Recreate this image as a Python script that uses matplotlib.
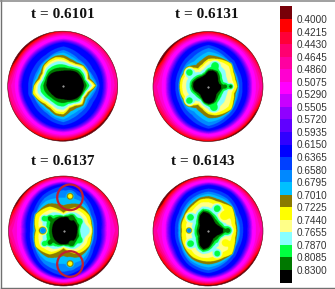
import numpy as np
import matplotlib
matplotlib.use("Agg")
import matplotlib.pyplot as plt
from matplotlib.colors import ListedColormap, BoundaryNorm
from matplotlib.patches import Circle, Rectangle

W, H = 335, 289

tick_labels = ["0.4000", "0.4215", "0.4430", "0.4645", "0.4860", "0.5075", "0.5290",
               "0.5505", "0.5720", "0.5935", "0.6150", "0.6365", "0.6580", "0.6795",
               "0.7010", "0.7225", "0.7440", "0.7655", "0.7870", "0.8085", "0.8300"]
level_values = [float(s) for s in tick_labels]
band_colors = ["#780008", "#ff0000", "#ff0038", "#ff0070", "#ff00a0", "#ff00d0", "#ff00ff",
               "#c800ff", "#9000ff", "#6000ff", "#3000ff", "#0000ff", "#0040ff", "#0088ff",
               "#00c0ff", "#8a7a00", "#ffff00", "#ffff88", "#88ffff", "#00ff40", "#007800",
               "#000000"]

titles = ["t = 0.6101", "t = 0.6131", "t = 0.6137", "t = 0.6143"]

# radii as fraction of the disk, angle 0 = east, counter clockwise
# black core and edge of the yellow zone, every 15 deg
black_1 = [.37, .36, .35, .34, .31, .28, .27, .27, .29, .31, .32, .31,
           .31, .29, .27, .26, .26, .25, .25, .27, .30, .33, .35, .36]
yellow_1 = [.58, .46, .50, .50, .45, .45, .50, .53, .52, .50, .44, .45,
            .53, .57, .52, .47, .47, .52, .52, .42, .42, .48, .43, .46]
black_2 = [.25, .20, .20, .24, .29, .30, .28, .22, .21, .22, .25, .28,
           .28, .26, .22, .21, .24, .29, .31, .31, .25, .20, .20, .22]
yellow_2 = [.52, .50, .52, .58, .55, .52, .50, .42, .38, .48, .50, .52,
            .52, .52, .50, .48, .38, .42, .50, .54, .56, .58, .52, .48]
black_3 = [.25, .26, .26, .26, .25, .25, .24, .24, .23, .23, .22, .21,
           .21, .21, .22, .23, .24, .25, .25, .25, .26, .26, .26, .25]
yellow_3 = [.50, .52, .54, .52, .49, .40, .32, .40, .50, .54, .58, .54,
            .50, .54, .58, .54, .50, .40, .32, .40, .49, .52, .54, .52]
black_4 = [.30, .23, .19, .18, .20, .25, .31, .35, .31, .23, .18, .17,
           .18, .18, .18, .23, .31, .35, .30, .22, .17, .17, .18, .23]
yellow_4 = [.50, .50, .54, .60, .56, .55, .58, .58, .54, .52, .50, .50,
            .48, .50, .52, .54, .56, .56, .56, .56, .56, .60, .54, .50]

# outer edge of cyan and blue, rim value, every 30 deg
cyan_1 = [.62, .54, .56, .66, .58, .56, .57, .58, .60, .68, .60, .55]
blue_1 = [.71, .72, .74, .78, .74, .74, .75, .74, .76, .78, .75, .72]
rim_1 = [.46, .43, .42, .40, .36, .36, .47, .44, .41, .39, .36, .36]
cyan_2 = [.56, .56, .62, .72, .62, .56, .54, .56, .62, .74, .64, .58]
blue_2 = [.70, .72, .76, .80, .76, .70, .68, .70, .76, .80, .76, .72]
rim_2 = [.46, .41, .38, .40, .38, .36, .47, .42, .40, .39, .36, .36]
cyan_3 = [.56, .58, .70, .78, .70, .58, .56, .60, .72, .80, .72, .58]
blue_3 = [.68, .74, .80, .84, .80, .72, .67, .72, .80, .85, .80, .72]
rim_3 = [.47, .41, .39, .40, .37, .36, .47, .40, .38, .36, .36, .38]
cyan_4 = [.58, .58, .68, .72, .66, .58, .56, .58, .68, .74, .66, .58]
blue_4 = [.70, .74, .80, .82, .78, .70, .68, .70, .78, .82, .78, .72]
rim_4 = [.47, .41, .39, .39, .37, .36, .47, .41, .40, .38, .36, .37]

# field value going from the black edge to the yellow edge
inner_1 = [.829, .800, .765, .7225]
inner_2 = [.829, .773, .758, .7225]
inner_3 = [.829, .785, .752, .7225]
inner_4 = [.829, .770, .748, .7225]

# local spots: x, y, size (fraction of the disk), value
spots_1 = []
spots_2 = [(.12, .38, .11, .80), (-.35, .26, .11, .80), (-.35, -.26, .11, .80),
           (.10, -.38, .11, .80), (.30, 0, .09, .81), (.40, 0, .07, .81)]
spots_3 = [(.12, .62, .13, .68), (.12, -.60, .13, .68),
           (.12, .62, .08, .735), (.12, -.60, .08, .735), (.40, 0, .15, .773),
           (-.37, 0, .09, .66), (.15, .24, .08, .815), (.30, .17, .07, .80),
           (.15, -.24, .08, .815), (.30, -.18, .07, .80), (-.25, .22, .08, .815),
           (-.25, -.22, .08, .815), (-.35, .22, .08, .80), (-.35, -.24, .08, .80)]
spots_4 = [(-.33, .24, .11, .80), (.16, .40, .11, .80), (.35, 0, .11, .81),
           (-.33, -.24, .11, .80), (.16, -.42, .10, .80), (-.35, 0, .07, .67),
           (.28, .26, .13, .735), (.30, -.22, .13, .74)]

centers = [(62.7, 86.2), (208, 86.5), (63.5, 231), (208, 231)]
disk_r = 55
title_pos = [(63, 15), (207, 15), (63, 161.5), (203, 161.5)]
rings = [(70, 197.3), (70, 264)]


def periodic(angles, table):
    step = 360 / len(table)
    grid = np.arange(len(table) + 1) * step
    return np.interp(angles, grid, list(table) + [table[0]])


def build_field(black, yellow, cyan, blue, rim, inner, spots, n=420):
    xs = np.linspace(-1.02, 1.02, n)
    X, Y = np.meshgrid(xs, xs)
    r = np.hypot(X, Y)
    a = np.degrees(np.arctan2(Y, X)) % 360
    rb = periodic(a, black)
    ry = periodic(a, yellow)
    rc = np.maximum(periodic(a, cyan), ry + .03)
    rn = np.maximum(periodic(a, blue), rc + .05)
    rr = periodic(a, rim)
    Z = np.full_like(r, .84)
    t = (r - rb) / (ry - rb)
    m = (r > rb) & (r <= ry)
    Z[m] = np.interp(t[m], [0, .35, .7, 1], inner)
    m = (r > ry) & (r <= rc)
    Z[m] = .7225 - (.7225 - .65) * (r[m] - ry[m]) / (rc[m] - ry[m])
    m = (r > rc) & (r <= rn)
    Z[m] = .65 - .035 * (r[m] - rc[m]) / (rn[m] - rc[m])
    m = r > rn
    t = (r[m] - rn[m]) / (1 - rn[m])
    Z[m] = np.where(t < .3, .615 - .086 * t / .3,
                    np.where(t < .55, .529 - .024 * (t - .3) / .25,
                             .505 + (rr[m] - .505) * (t - .55) / .45))
    for sx, sy, size, val in spots:
        w = np.clip(1.6 * (1 - np.hypot(X - sx, Y - sy) / size), 0, 1)
        Z = Z + (val - Z) * w
    return Z


panels = [(black_1, yellow_1, cyan_1, blue_1, rim_1, inner_1, spots_1),
          (black_2, yellow_2, cyan_2, blue_2, rim_2, inner_2, spots_2),
          (black_3, yellow_3, cyan_3, blue_3, rim_3, inner_3, spots_3),
          (black_4, yellow_4, cyan_4, blue_4, rim_4, inner_4, spots_4)]

cmap = ListedColormap(band_colors)
edges = [0.3] + level_values + [0.9]
norm = BoundaryNorm(edges, cmap.N)

fig = plt.figure(figsize=(W / 100, H / 100), dpi=100)
bg = fig.add_axes([0, 0, 1, 1])
bg.set_xlim(0, W)
bg.set_ylim(H, 0)
bg.axis("off")

# outer frame of the picture
bg.plot([1, 1], [0, 287.5], color="#707070", lw=1.0)
bg.plot([0, W], [0.6, 0.6], color="#909090", lw=1.2)
bg.plot([1, W], [287.5, 287.5], color="#707070", lw=1.0)

for i, p in enumerate(panels):
    cx, cy = centers[i]
    Z = build_field(*p)
    ax = fig.add_axes([(cx - disk_r * 1.02) / W, 1 - (cy + disk_r * 1.02) / H,
                       2.04 * disk_r / W, 2.04 * disk_r / H])
    ax.set_xlim(-1.02, 1.02)
    ax.set_ylim(-1.02, 1.02)
    ax.axis("off")
    im = ax.imshow(Z, origin="lower", extent=[-1.02, 1.02, -1.02, 1.02], cmap=cmap, norm=norm,
                   interpolation="hanning", interpolation_stage="rgba")
    im.set_clip_path(Circle((0, 0), 1, transform=ax.transData))
    ax.add_patch(Circle((0, 0), 1, fill=False, ec="#50000a", lw=0.4))
    ax.plot([0], [0], ".", color="#bbbbbb", ms=1)
    tx, ty = title_pos[i]
    bg.text(tx, ty, titles[i], ha="center", va="center", family="Liberation Serif",
            weight="bold", fontsize=11, color="#111111")

for rx, ry in rings:
    bg.add_patch(Circle((rx, ry), 12.8, fill=False, ec="#c02030", lw=1.6, zorder=5))
bg.set_zorder(3)
bg.patch.set_alpha(0)

# colour bar
bar_x0, bar_w = 280, 12
first_y, step_y = 19, 12.55
for j, col in enumerate(band_colors):
    y0 = first_y + (j - 1) * step_y
    bg.add_patch(Rectangle((bar_x0, y0), bar_w, step_y, fc=col, ec="none"))
for j, lab in enumerate(tick_labels):
    bg.text(296.5, 20 + j * step_y, lab, ha="left", va="center", family="Liberation Sans",
            fontsize=7.2, color="#333333")

fig.savefig("out.png", dpi=100)
